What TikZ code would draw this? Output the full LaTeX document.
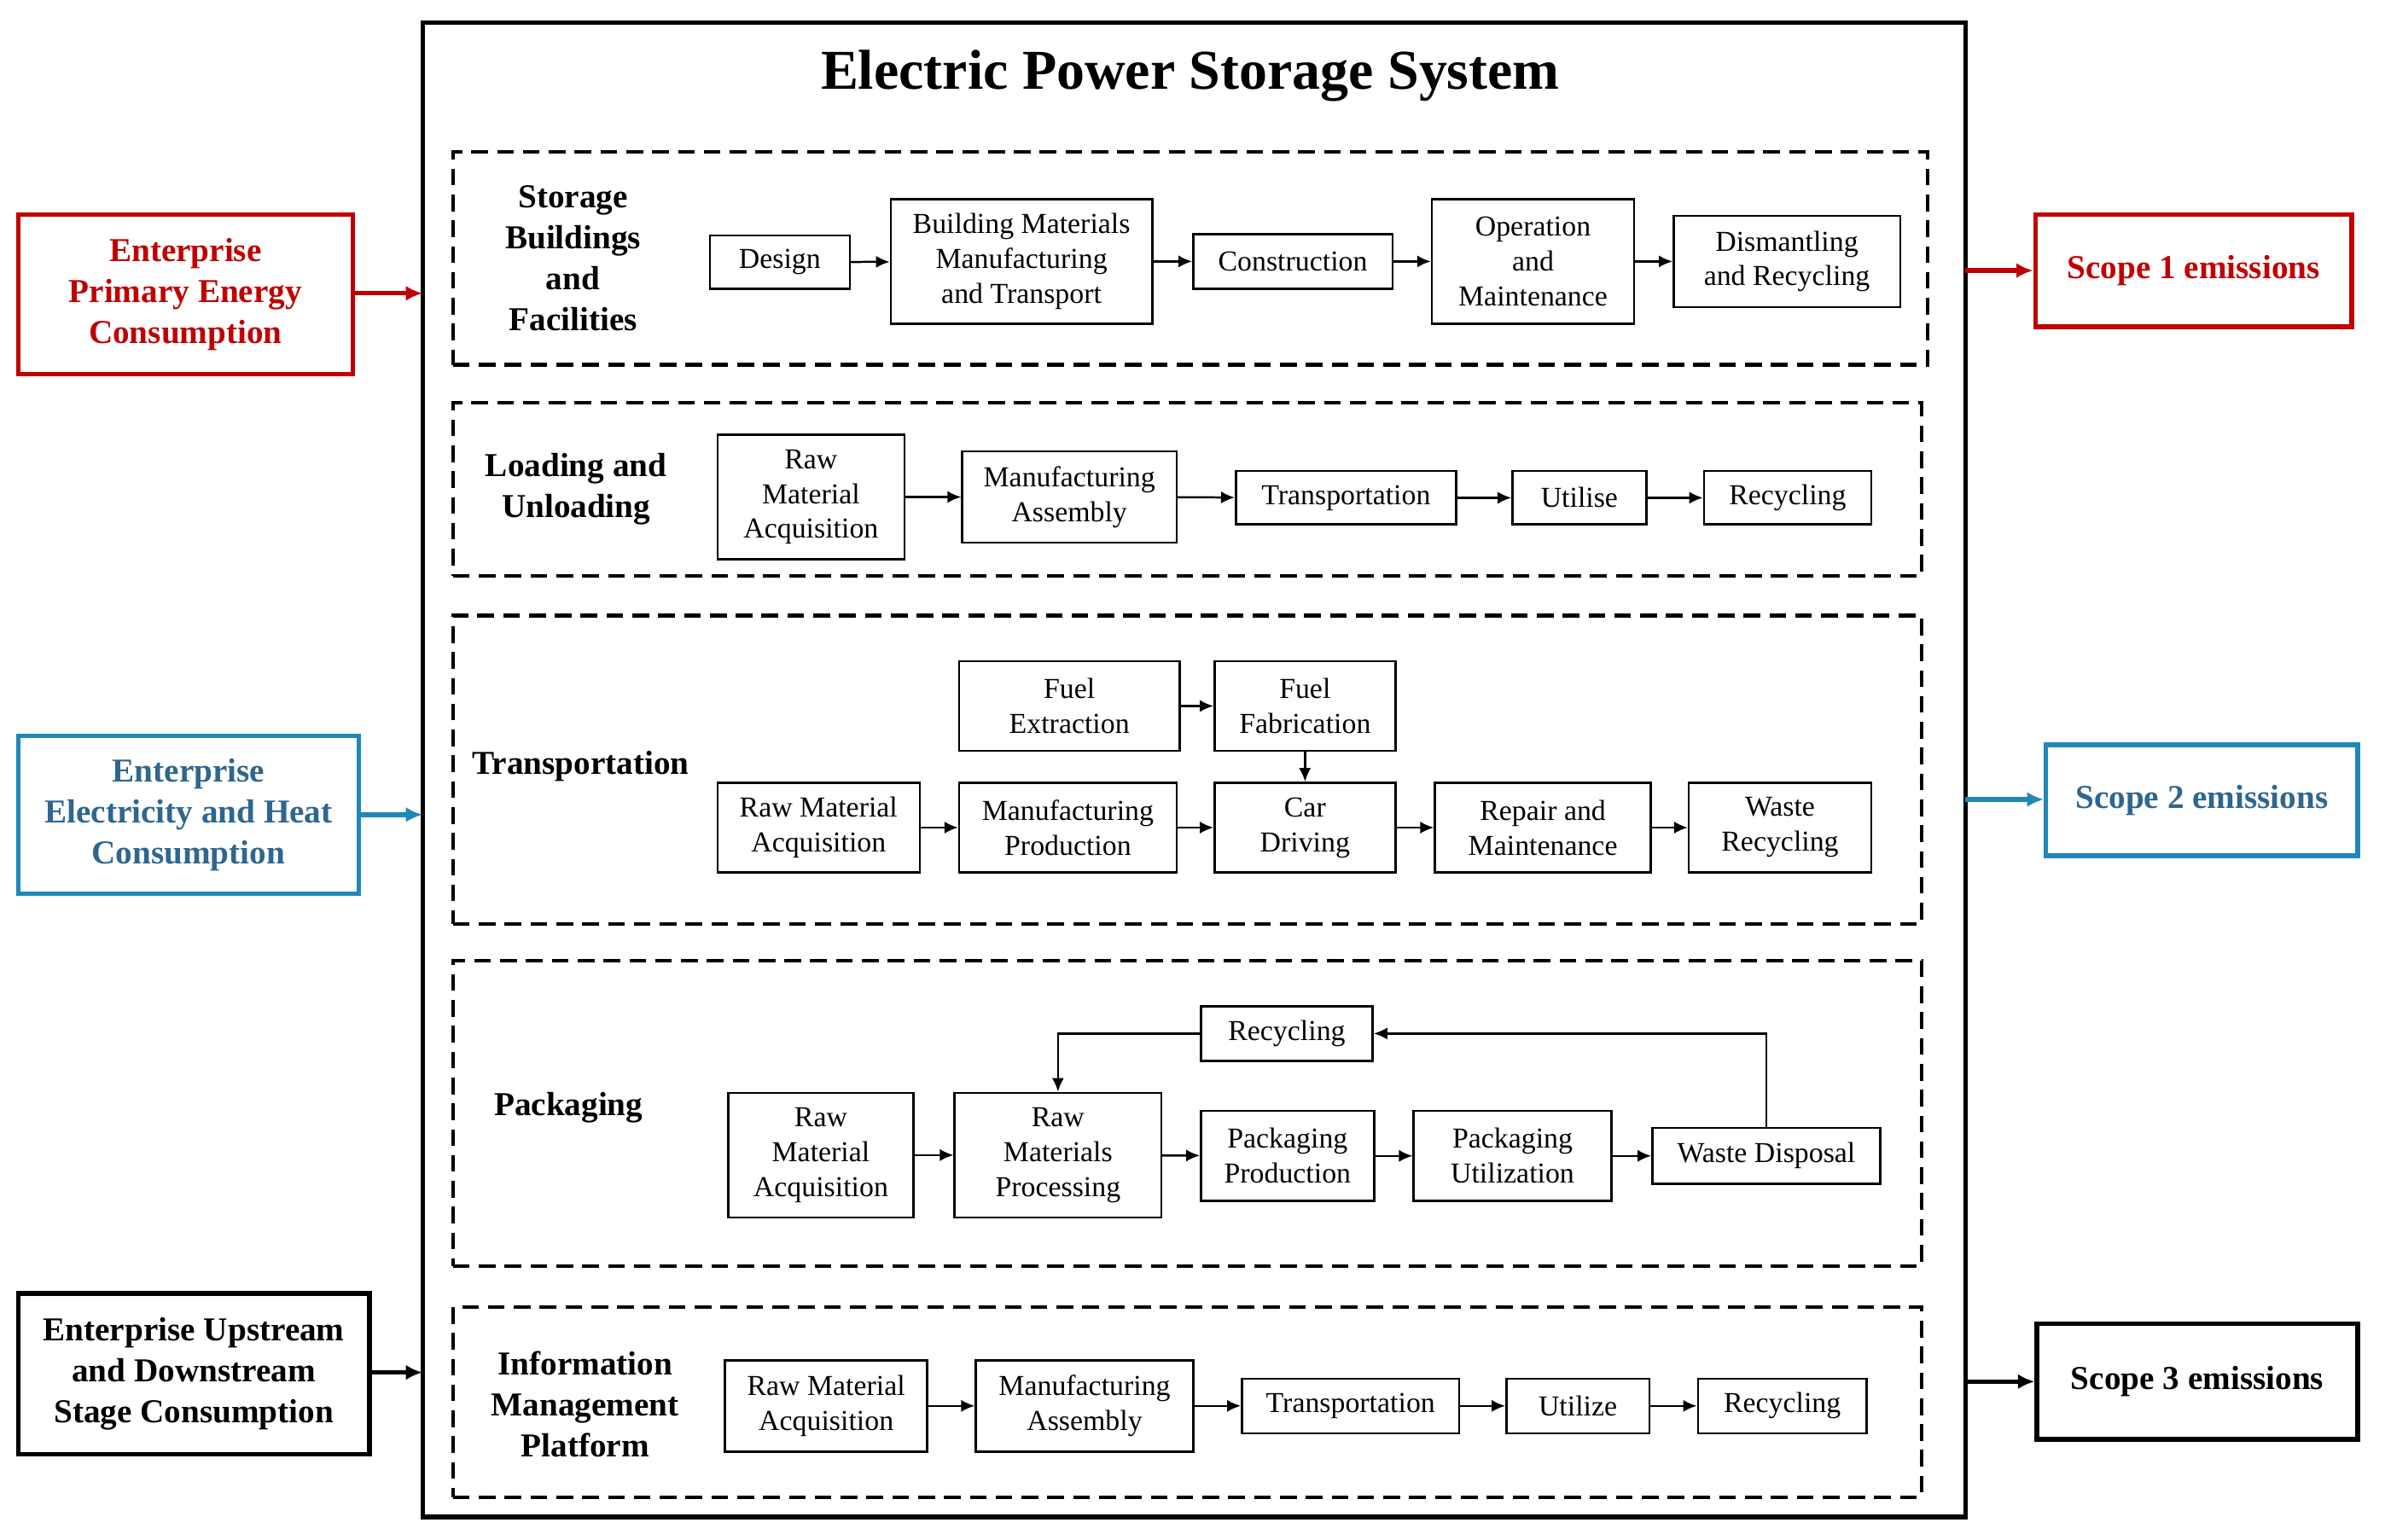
\documentclass[tikz,border=0pt]{standalone}
\usepackage{fontspec}
\setmainfont{Liberation Serif}
\usetikzlibrary{arrows.meta}
\definecolor{cred}{HTML}{C00000}
\definecolor{cblueb}{HTML}{2088B8}
\definecolor{cbluet}{HTML}{2F6690}
\tikzset{
 box/.style={draw,line width=1.4pt,inner sep=0pt,align=center,font=\fontsize{19}{23}\selectfont},
 sec/.style={draw,line width=2.4pt,dash pattern=on 11pt off 6pt,inner sep=0pt},
 lab/.style={align=center,font=\bfseries\fontsize{22}{27}\selectfont},
 side/.style={draw,line width=3pt,inner sep=0pt,align=center,font=\bfseries\fontsize{22}{27}\selectfont},
 ar/.style={-{Latex[length=9pt,width=8pt]},line width=1.4pt},
 bar/.style={-{Latex[length=11pt,width=10pt]},line width=3pt},
}
\newcommand\bx[7][box]{\node[#1,minimum width={(#5-#3)*1pt},minimum height={(#6-#4)*1pt}] (#2) at ({(#3+#5)/2},{(#4+#6)/2}) {#7};}
\begin{document}
\begin{tikzpicture}[x=1pt,y=-1pt]
\useasboundingbox (0,0) rectangle (1569,1013);
\bx[draw,line width=3pt,inner sep=0pt]{main}{278}{15}{1293}{998}{}
\node[font=\bfseries\fontsize{37}{42}\selectfont] (title) at (783,50) {Electric Power Storage System};
% section 1
\bx[sec]{s1}{298}{100}{1268}{240}{}
\node[lab] (l1) at (377,170) {Storage\\Buildings\\and\\Facilities};
\bx{a1}{467}{155}{559}{190}{Design}
\bx{a2}{586}{131}{758}{213}{Building Materials\\Manufacturing\\and Transport}
\bx{a3}{785}{154}{916}{190}{Construction}
\bx{a4}{942}{131}{1075}{213}{Operation\\and\\Maintenance}
\bx{a5}{1101}{142}{1250}{202}{Dismantling\\and Recycling}
\foreach \i/\j in {a1/a2,a2/a3,a3/a4,a4/a5} \draw[ar] (\i) -- (\j);
% section 2
\bx[sec]{s2}{298}{265}{1264}{379}{}
\node[lab] (l2) at (379,322) {Loading and\\Unloading};
\bx{b1}{472}{286}{595}{368}{Raw\\Material\\Acquisition}
\bx{b2}{633}{297}{774}{357}{Manufacturing\\Assembly}
\bx{b3}{813}{310}{958}{345}{Transportation}
\bx{b4}{995}{310}{1083}{345}{Utilise}
\bx{b5}{1121}{310}{1231}{345}{Recycling}
\foreach \i/\j in {b1/b2,b2/b3,b3/b4,b4/b5} \draw[ar] (\i) -- (\j);
% section 3
\bx[sec]{s3}{298}{405}{1264}{608}{}
\node[lab] (l3) at (382,504) {Transportation};
\bx{f1}{631}{435}{776}{494}{Fuel\\Extraction}
\bx{f2}{799}{435}{918}{494}{Fuel\\Fabrication}
\bx{c1}{472}{515}{605}{574}{Raw Material\\Acquisition}
\bx{c2}{631}{515}{774}{574}{Manufacturing\\Production}
\bx{c3}{799}{515}{918}{574}{Car\\Driving}
\bx{c4}{944}{515}{1086}{574}{Repair and\\Maintenance}
\bx{c5}{1111}{515}{1231}{574}{Waste\\Recycling}
\foreach \i/\j in {c1/c2,c2/c3,c3/c4,c4/c5,f1/f2} \draw[ar] (\i) -- (\j);
\draw[ar] (f2) -- (c3);
% section 4
\bx[sec]{s4}{298}{632}{1264}{833}{}
\node[lab] (l4) at (374,729) {Packaging};
\bx{r}{790}{662}{903}{698}{Recycling}
\bx{d1}{479}{719}{601}{801}{Raw\\Material\\Acquisition}
\bx{d2}{628}{719}{764}{801}{Raw\\Materials\\Processing}
\bx{d3}{790}{731}{904}{790}{Packaging\\Production}
\bx{d4}{930}{731}{1060}{790}{Packaging\\Utilization}
\bx{d5}{1087}{742}{1237}{779}{Waste Disposal}
\foreach \i/\j in {d1/d2,d2/d3,d3/d4,d4/d5} \draw[ar] (\i) -- (\j);
\draw[ar] (d5.north) |- (r.east);
\draw[ar] (r.west) -| (d2.north);
% section 5
\bx[sec]{s5}{298}{860}{1264}{985}{}
\node[lab] (l5) at (385,924) {Information\\Management\\Platform};
\bx{e1}{477}{895}{610}{955}{Raw Material\\Acquisition}
\bx{e2}{642}{895}{785}{955}{Manufacturing\\Assembly}
\bx{e3}{817}{907}{960}{943}{Transportation}
\bx{e4}{991}{907}{1085}{943}{Utilize}
\bx{e5}{1117}{907}{1228}{943}{Recycling}
\foreach \i/\j in {e1/e2,e2/e3,e3/e4,e4/e5} \draw[ar] (\i) -- (\j);
% sides
\bx[side,draw=cred,text=cred]{p1}{12}{141}{232}{246}{Enterprise\\Primary Energy\\Consumption}
\bx[side,draw=cblueb,text=cbluet]{p2}{12}{484}{236}{588}{Enterprise\\Electricity and Heat\\Consumption}
\bx[side]{p3}{12}{851}{243}{957}{Enterprise Upstream\\and Downstream\\Stage Consumption}
\coordinate (m1) at (278,193); \coordinate (m2) at (278,536); \coordinate (m3) at (278,903);
\draw[bar,draw=cred,fill=cred] (p1.east|-m1) -- (m1);
\draw[bar,draw=cblueb,fill=cblueb] (p2.east|-m2) -- (m2);
\draw[bar] (p3.east|-m3) -- (m3);
\bx[side,draw=cred,text=cred]{q1}{1339}{141}{1547}{215}{Scope 1 emissions}
\bx[side,draw=cblueb,text=cbluet]{q2}{1346}{490}{1551}{563}{Scope 2 emissions}
\bx[side]{q3}{1340}{871}{1551}{947}{Scope 3 emissions}
\coordinate (n1) at (1293,178); \coordinate (n2) at (1293,526); \coordinate (n3) at (1293,909);
\draw[bar,draw=cred,fill=cred] (n1) -- (q1.west|-n1);
\draw[bar,draw=cblueb,fill=cblueb] (n2) -- (q2.west|-n2);
\draw[bar] (n3) -- (q3.west|-n3);
\end{tikzpicture}
\end{document}
